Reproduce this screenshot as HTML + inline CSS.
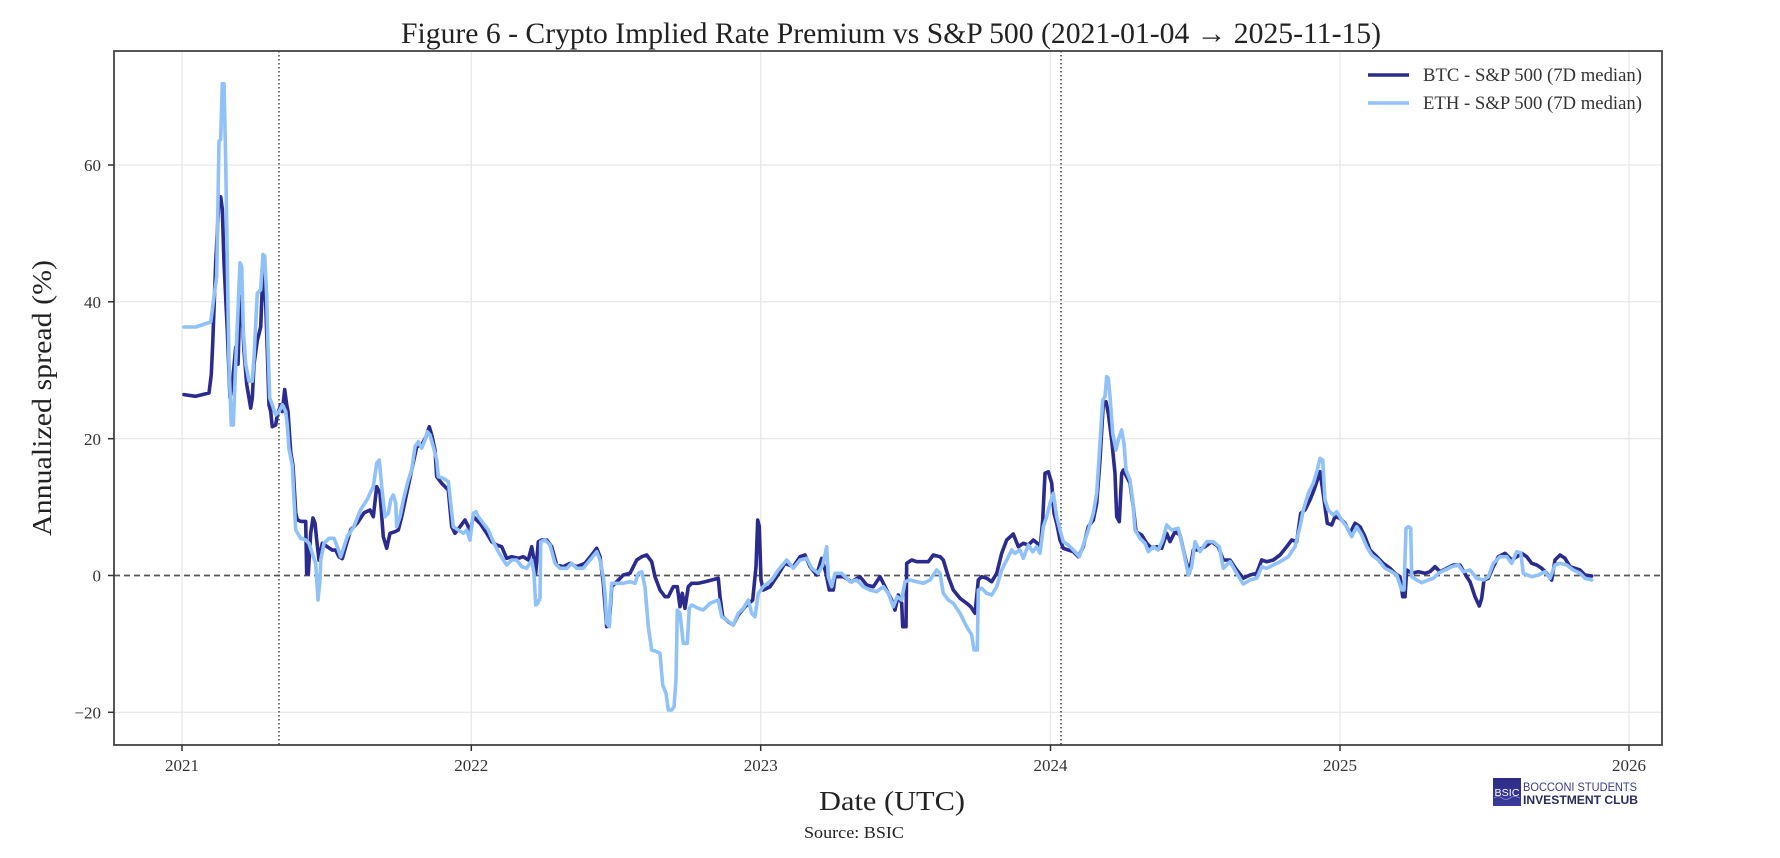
<!DOCTYPE html>
<html><head><meta charset="utf-8"><style>
html,body{margin:0;padding:0;background:#fff;}
svg{display:block;font-family:"Liberation Serif","DejaVu Serif",serif;}
</style></head><body>
<svg width="1780" height="858" viewBox="0 0 1780 858" xmlns="http://www.w3.org/2000/svg">
<rect width="1780" height="858" fill="#fff"/>
<defs><clipPath id="pa"><rect x="114" y="51" width="1548" height="694"/></clipPath></defs>
<!-- grid -->
<g stroke="#e6e6e6" stroke-width="1.2">
<line x1="182" y1="51" x2="182" y2="745"/><line x1="471.3" y1="51" x2="471.3" y2="745"/><line x1="760.7" y1="51" x2="760.7" y2="745"/><line x1="1050.5" y1="51" x2="1050.5" y2="745"/><line x1="1340" y1="51" x2="1340" y2="745"/><line x1="1629" y1="51" x2="1629" y2="745"/>
<line x1="114" y1="165" x2="1662" y2="165"/><line x1="114" y1="301.8" x2="1662" y2="301.8"/><line x1="114" y1="438.7" x2="1662" y2="438.7"/><line x1="114" y1="712.3" x2="1662" y2="712.3"/>
</g>
<!-- zero line -->
<line x1="114" y1="575.5" x2="1662" y2="575.5" stroke="#555" stroke-width="1.7" stroke-dasharray="6,4"/>
<!-- vertical dotted -->
<line x1="279" y1="51" x2="279" y2="745" stroke="#444" stroke-width="1.5" stroke-dasharray="1.5,2.5"/>
<line x1="1061" y1="51" x2="1061" y2="745" stroke="#444" stroke-width="1.5" stroke-dasharray="1.5,2.5"/>
<g clip-path="url(#pa)" fill="none" stroke-linejoin="round" stroke-linecap="round" stroke-width="3.6">
<polyline stroke="#2b2b8e" points="184,394.6 195.7,396.3 209,393 211.3,374.3 212.7,343.9 215.7,262.8 219,198.6 220.7,196.9 222.3,208.7 224,262.8 227.3,330.4 230,398 232.3,384.5 235.7,347.3 238,364.2 240,296.6 242.3,316.9 244,350.7 246.7,384.5 249,398 250.7,408.1 252.3,398 254,364.2 257.3,340.5 260.7,327 263,269.6 265.7,303.4 267.3,350.7 269,404.8 270.7,411.5 272.3,426.7 275.7,425 277.3,414.9 280.7,404.8 282.3,411.5 284.7,389.6 286.7,404.8 288,411.5 290.7,452.1 293,465.6 295.7,512.9 297.3,519.7 300.7,521.4 305.7,521.4 306.7,573.8 308.3,573.8 310.7,533.2 313,518 315,523.1 316.7,540 319,560.2 322.3,543.3 327.3,546.7 332.3,550.1 335.7,550.1 339,556.9 342.3,558.6 345.7,546.7 350.7,529.8 357.3,523.1 364,512.9 370,510 373.3,516.7 376.7,486.7 380,493.3 383.3,536.7 386.7,548.3 390,533.3 395,531.7 398.3,530 401.7,516.7 406.7,493.3 411.7,470 416.7,446.7 421.7,445 426,436.7 429.3,426.7 431.7,435 435,450 436.7,476.7 441.7,483.3 448.3,490 451.7,526.7 455,533.3 460,526.7 465,520 468.3,526.7 470,533.3 473.3,516.7 480,523.3 486.7,533.3 491.7,541.7 496.7,545 501.7,546.7 506.7,558.3 511.7,556.7 518.3,558.3 523.3,556.7 528.3,560 531.7,546.7 534,560 535.7,573.3 538.3,541.7 541.7,540 546.7,540 551.7,546.7 556.7,565 563.3,566.7 570,563.3 576.7,566.7 585,563.3 591.7,555 596.7,548.3 600,556.7 603.3,583.3 606.7,626.7 609.3,623.3 611.7,586.7 616.7,581.7 623.3,575 630,573.3 636.7,560 641.7,556.7 646.7,555 651.7,561.7 655,576.7 660,590 665,596.7 668.3,596.7 673.3,586.7 677.3,586.7 680,606.7 682.3,593.3 685,608.3 688.3,586.7 691.7,583.3 698.3,583.3 705,581.7 711.7,580 718.3,578.3 720,596.7 722.7,616.7 728.3,621.7 733.3,625 738.3,615 745,606.7 752.7,600 756,566.7 757.7,520 759.3,526.7 761,580 763.3,590 770,586.7 776.7,576.7 785,563.3 793.3,566.7 800,556.7 805,555 810,566.7 816.7,575 821.7,558.3 826,573.3 829.3,590 833.3,590 835,576.7 843.3,576.7 851.7,581.7 860,576.7 866.7,585 873.3,586.7 880,576.7 886.7,590 891.7,600 895,610 898.3,595 901.7,603.3 902.7,626.7 906,626.7 906.7,563.3 911.7,560 916.7,561.7 921.7,561.7 928.3,561.7 933.3,555 940,556.7 943.3,560 948.3,576.7 953.3,590 960,598.3 966.7,603.3 970.7,606.7 975,613.3 978.3,580 981.7,576.7 986.7,578.3 991.7,581.7 996.7,573.3 1001.7,553.3 1006.7,540 1013.3,534 1018.3,546.7 1023.3,543.3 1028.3,545 1033.3,540 1037.3,543.3 1040,550 1042.7,520 1045,473.3 1048.3,471.7 1051.7,483.3 1054,513.3 1056.7,523.3 1060,540 1063.3,548.3 1068.3,550 1073.3,551.7 1078.3,556.7 1083.3,546.7 1088.3,526.7 1093.3,520 1096.7,503.3 1100,460 1103.3,403.3 1106,401.7 1108.3,413.3 1111.7,440 1115,473.3 1116.7,516.7 1119.3,521.7 1121.7,473.3 1123.3,470 1126.7,476.7 1130,483.3 1133.3,506.7 1136,531.7 1141.7,535 1146.7,543.3 1151.7,548.3 1156.7,546.7 1161.7,548.3 1166.7,533.3 1170,541.7 1175,531.7 1180,535 1185,556.7 1189.3,573.3 1193.3,550 1198.3,550 1205,546.7 1211.7,541.7 1218.3,546.7 1223.3,560 1230,560 1236.7,570 1243.3,578.3 1250,575 1256.7,573.3 1261.7,560 1266.7,561.7 1273.3,560 1280,555 1286.7,546.7 1291.7,540 1296.7,541.7 1300.7,513.3 1305,510 1310,500 1314,490 1317.3,480 1320,471.7 1322.7,490 1325,506.7 1327.3,523.3 1331.7,525 1335,516.7 1340,518.3 1345,523.3 1350,533.3 1355,523.3 1360,526.7 1365,536.7 1370,550 1376.7,556.7 1383.3,563.3 1390,568.3 1395,573.3 1400,576.7 1402.7,596.7 1405,596.7 1406.7,570 1411.7,573.3 1418.3,571.7 1425,573.3 1430,571.7 1435,566.7 1440,571.7 1446.7,568.3 1453.3,565 1460,565 1466.7,576.7 1470,581.7 1475,596.7 1479.3,606 1481.7,598.3 1484,580 1488.3,578.3 1493.3,566.7 1498.3,556.7 1505,553.3 1511.7,560 1516.7,556.7 1521.7,553.3 1526.7,556.7 1531.7,563.3 1536.7,565 1541.7,568.3 1546.7,573.3 1551.7,580 1555,560 1560,555 1565,558.3 1570,566.7 1575,568.3 1580,570 1585,575 1591.7,576"/>
<polyline stroke="#90c1f7" points="184,327 195.7,327 210.7,322 214,296.6 216.7,276.3 219,141.1 220.7,139.4 222.3,83.7 224,83.7 225.7,161.4 227.3,262.8 229,364.2 231.3,425 233.3,425 235.7,364.2 240,262.8 241.7,266.2 243.3,330.4 245.7,364.2 249,381.1 252.3,381.1 254,357.4 257.3,293.2 260.7,289.8 263,254.4 264.7,256 266.7,296.6 268,347.3 269.7,398 272.3,404.8 275.7,414.9 279,411.5 282.3,404.8 285.7,411.5 287.3,425 289,448.7 292.3,465.6 294,499.4 295.7,529.8 300.7,538.3 305.7,540 309,543.3 312.3,553.5 315.7,563.6 318,600 320,580 320.7,560.2 324,543.3 329,538.3 334,538.3 337.3,546.7 340.7,556.9 344,546.7 347.3,536.6 354,526.4 360.7,509.5 367.3,499.4 370,493.3 373.3,486.7 376.7,463.3 379.3,460 381.7,486.7 385,516.7 388.3,513.3 390.7,500 393.3,495 395.7,503.3 396.7,526.7 400,516.7 403.3,500 408.3,480 411.7,470 415,446.7 418.3,441.7 421.7,448.3 425,440 427.3,431.7 430,435 433.3,446.7 436.7,460 438.3,476.7 443.3,478.3 448.3,481.7 450,496.7 453.3,526.7 458.3,530 463.3,533.3 466.7,530 470,540 473.3,513.3 476,511.7 478.3,516.7 483.3,523.3 488.3,530 493.3,541.7 498.3,551.7 503.3,560 506.7,565 511.7,560 516.7,560 521.7,566.7 526.7,568.3 531.7,560 534,573.3 535.7,605 537.7,603.3 540,598.3 540.7,541.7 545,540 550,545 555,563.3 560,568.3 566.7,568.3 571.7,563.3 576.7,568.3 583.3,568.3 590,560 596.7,551.7 600,560 603.3,576.7 605,593.3 606.7,623.3 609.3,626.7 610,606.7 611.7,583.3 616.7,583.3 623.3,583.3 630,581.7 635,583.3 638.3,573.3 641.7,571.7 645,586.7 648.3,626.7 651.7,650 656.7,651.7 660,653.3 662.7,685 666,693.3 668.3,710 671.7,710 674,706.7 676,680 677.3,610 680,613.3 683.3,643.3 687.3,643.3 689.3,608.3 691.7,605 698.3,608.3 703.3,610 710,603.3 718.3,600 721.7,616.7 726.7,620 733.3,625 738.3,613.3 743.3,608.3 748.3,600 751.7,613.3 755,616.7 758.3,593.3 763.3,586.7 771.7,580 778.3,570 786.7,560 793.3,568.3 800,560 806.7,558.3 811.7,568.3 818.3,573.3 822.7,565 826.7,546.7 828.3,576.7 831.7,586.7 835,573.3 841.7,573.3 850,581.7 856.7,580 863.3,586.7 870,590 876.7,591.7 883.3,586.7 888.3,593.3 893.3,606.7 897.3,596.7 901.7,600 905,581.7 910,580 916.7,581.7 923.3,583.3 930,580 936.7,570 940,573.3 943.3,593.3 948.3,600 953.3,603.3 960,613.3 966.7,626.7 971.7,635 974,650 977.3,650 978.3,590 981.7,588.3 986.7,593.3 991.7,595 996.7,586.7 1001.7,570 1006.7,560 1011.7,550 1015,553.3 1020,550 1023.3,558.3 1028.3,545 1032.7,551.7 1036.7,546.7 1040,553.3 1043.3,526.7 1046.7,516.7 1050,503.3 1053.3,493.3 1056.7,516.7 1060,530 1063.3,541.7 1068.3,545 1073.3,550 1079.3,556.7 1083.3,545 1088.3,530 1093.3,513.3 1096.7,493.3 1100,443.3 1102.7,400 1105,396.7 1106.7,376.7 1108.3,378.3 1110,396.7 1112.7,433.3 1116,450 1118.3,440 1121.7,430 1124,443.3 1126,470 1130,480 1132.7,500 1135,530 1140,538.3 1145,543.3 1148.3,551.7 1153.3,546.7 1158.3,550 1162.7,540 1166.7,525 1171.7,530 1178.3,528.3 1183.3,550 1188.3,575 1191.7,566.7 1195,541.7 1200,551.7 1206.7,541.7 1213.3,541.7 1219.3,546.7 1223.3,568.3 1230,561.7 1236.7,573.3 1243.3,584 1250,580 1256.7,578.3 1261.7,566.7 1266.7,568.3 1273.3,565 1280,561.7 1288.3,556.7 1295,546.7 1300,526.7 1303.3,510 1308.3,493.3 1313.3,483.3 1317.3,470 1320,458.3 1322.7,460 1325,500 1328.3,510 1333.3,515 1336.7,511.7 1341.7,520 1346.7,526.7 1351.7,536.7 1356.7,526.7 1361.7,535 1366.7,546.7 1371.7,555 1378.3,560 1385,568.3 1391.7,571.7 1396.7,575 1401.7,590 1404,590 1406,528.3 1408.3,526.7 1410.7,528.3 1411.7,576.7 1416.7,580 1421.7,582.7 1428.3,580 1433.3,578.3 1438.3,573.3 1445,570 1451.7,566.7 1458.3,565 1463.3,571.7 1470,570 1476.7,578.3 1483.3,580 1488.3,576.7 1493.3,563.3 1500,556.7 1506.7,556.7 1511.7,563.3 1516.7,551.7 1520.7,552.7 1523.3,573.3 1531.7,576.7 1538.3,575 1545,571.7 1550,578.3 1555,565 1560,563.3 1566.7,565 1573.3,570 1580,573.3 1585,578.3 1591.7,580"/>
</g>
<!-- spines -->
<rect x="114" y="51" width="1548" height="694" fill="none" stroke="#444" stroke-width="1.8"/>
<!-- ticks -->
<g stroke="#333" stroke-width="1.5">
<line x1="108" y1="165" x2="114" y2="165"/><line x1="108" y1="301.8" x2="114" y2="301.8"/><line x1="108" y1="438.7" x2="114" y2="438.7"/><line x1="108" y1="575.5" x2="114" y2="575.5"/><line x1="108" y1="712.3" x2="114" y2="712.3"/>
<line x1="182" y1="745" x2="182" y2="751"/><line x1="471.3" y1="745" x2="471.3" y2="751"/><line x1="760.7" y1="745" x2="760.7" y2="751"/><line x1="1050.5" y1="745" x2="1050.5" y2="751"/><line x1="1340" y1="745" x2="1340" y2="751"/><line x1="1629" y1="745" x2="1629" y2="751"/>
</g>
<g fill="#333" font-size="17" text-anchor="end">
<text x="101" y="171">60</text><text x="101" y="308">40</text><text x="101" y="445">20</text><text x="101" y="581.5">0</text><text x="101" y="718.5">−20</text>
</g>
<g fill="#333" font-size="17" text-anchor="middle">
<text x="182" y="771">2021</text><text x="471.3" y="771">2022</text><text x="760.7" y="771">2023</text><text x="1050.5" y="771">2024</text><text x="1340" y="771">2025</text><text x="1629" y="771">2026</text>
</g>
<!-- title & labels -->
<text x="401" y="43" font-size="30" fill="#222" textLength="980" lengthAdjust="spacingAndGlyphs">Figure 6 - Crypto Implied Rate Premium vs S&amp;P 500 (2021-01-04 → 2025-11-15)</text>
<text transform="translate(51,536) rotate(-90)" font-size="27" fill="#222" textLength="276" lengthAdjust="spacingAndGlyphs">Annualized spread (%)</text>
<text x="819" y="810" font-size="27" fill="#222" textLength="146" lengthAdjust="spacingAndGlyphs">Date (UTC)</text>
<text x="804" y="838" font-size="17" fill="#222" textLength="100" lengthAdjust="spacingAndGlyphs">Source: BSIC</text>
<!-- legend -->
<line x1="1368" y1="75" x2="1409" y2="75" stroke="#2b2b8e" stroke-width="3.6"/>
<line x1="1368" y1="103" x2="1409" y2="103" stroke="#90c1f7" stroke-width="3.6"/>
<text x="1423" y="81" font-size="18.5" fill="#333" textLength="219" lengthAdjust="spacingAndGlyphs">BTC - S&amp;P 500 (7D median)</text>
<text x="1423" y="109" font-size="18.5" fill="#333" textLength="219" lengthAdjust="spacingAndGlyphs">ETH - S&amp;P 500 (7D median)</text>
<!-- logo -->
<defs><linearGradient id="lg" x1="0" y1="0" x2="0" y2="1"><stop offset="0" stop-color="#2c2c86"/><stop offset="1" stop-color="#3a3a9a"/></linearGradient></defs>
<rect x="1493" y="778" width="28" height="28" fill="url(#lg)"/>
<path d="M1494 798 q4 -3 8 0 t8 0 t10 0" stroke="#8a8ad0" stroke-width="0.8" fill="none"/>
<text x="1507" y="796" font-family="Liberation Sans,sans-serif" font-size="10" fill="#fff" text-anchor="middle" textLength="25" lengthAdjust="spacingAndGlyphs">BSIC</text>
<text x="1523" y="791" font-family="Liberation Sans,sans-serif" font-size="12" fill="#3a3a88" textLength="114" lengthAdjust="spacingAndGlyphs">BOCCONI STUDENTS</text>
<text x="1523" y="804" font-family="Liberation Sans,sans-serif" font-size="12" font-weight="bold" fill="#2a2a5e" textLength="115" lengthAdjust="spacingAndGlyphs">INVESTMENT CLUB</text>
</svg>
</body></html>
